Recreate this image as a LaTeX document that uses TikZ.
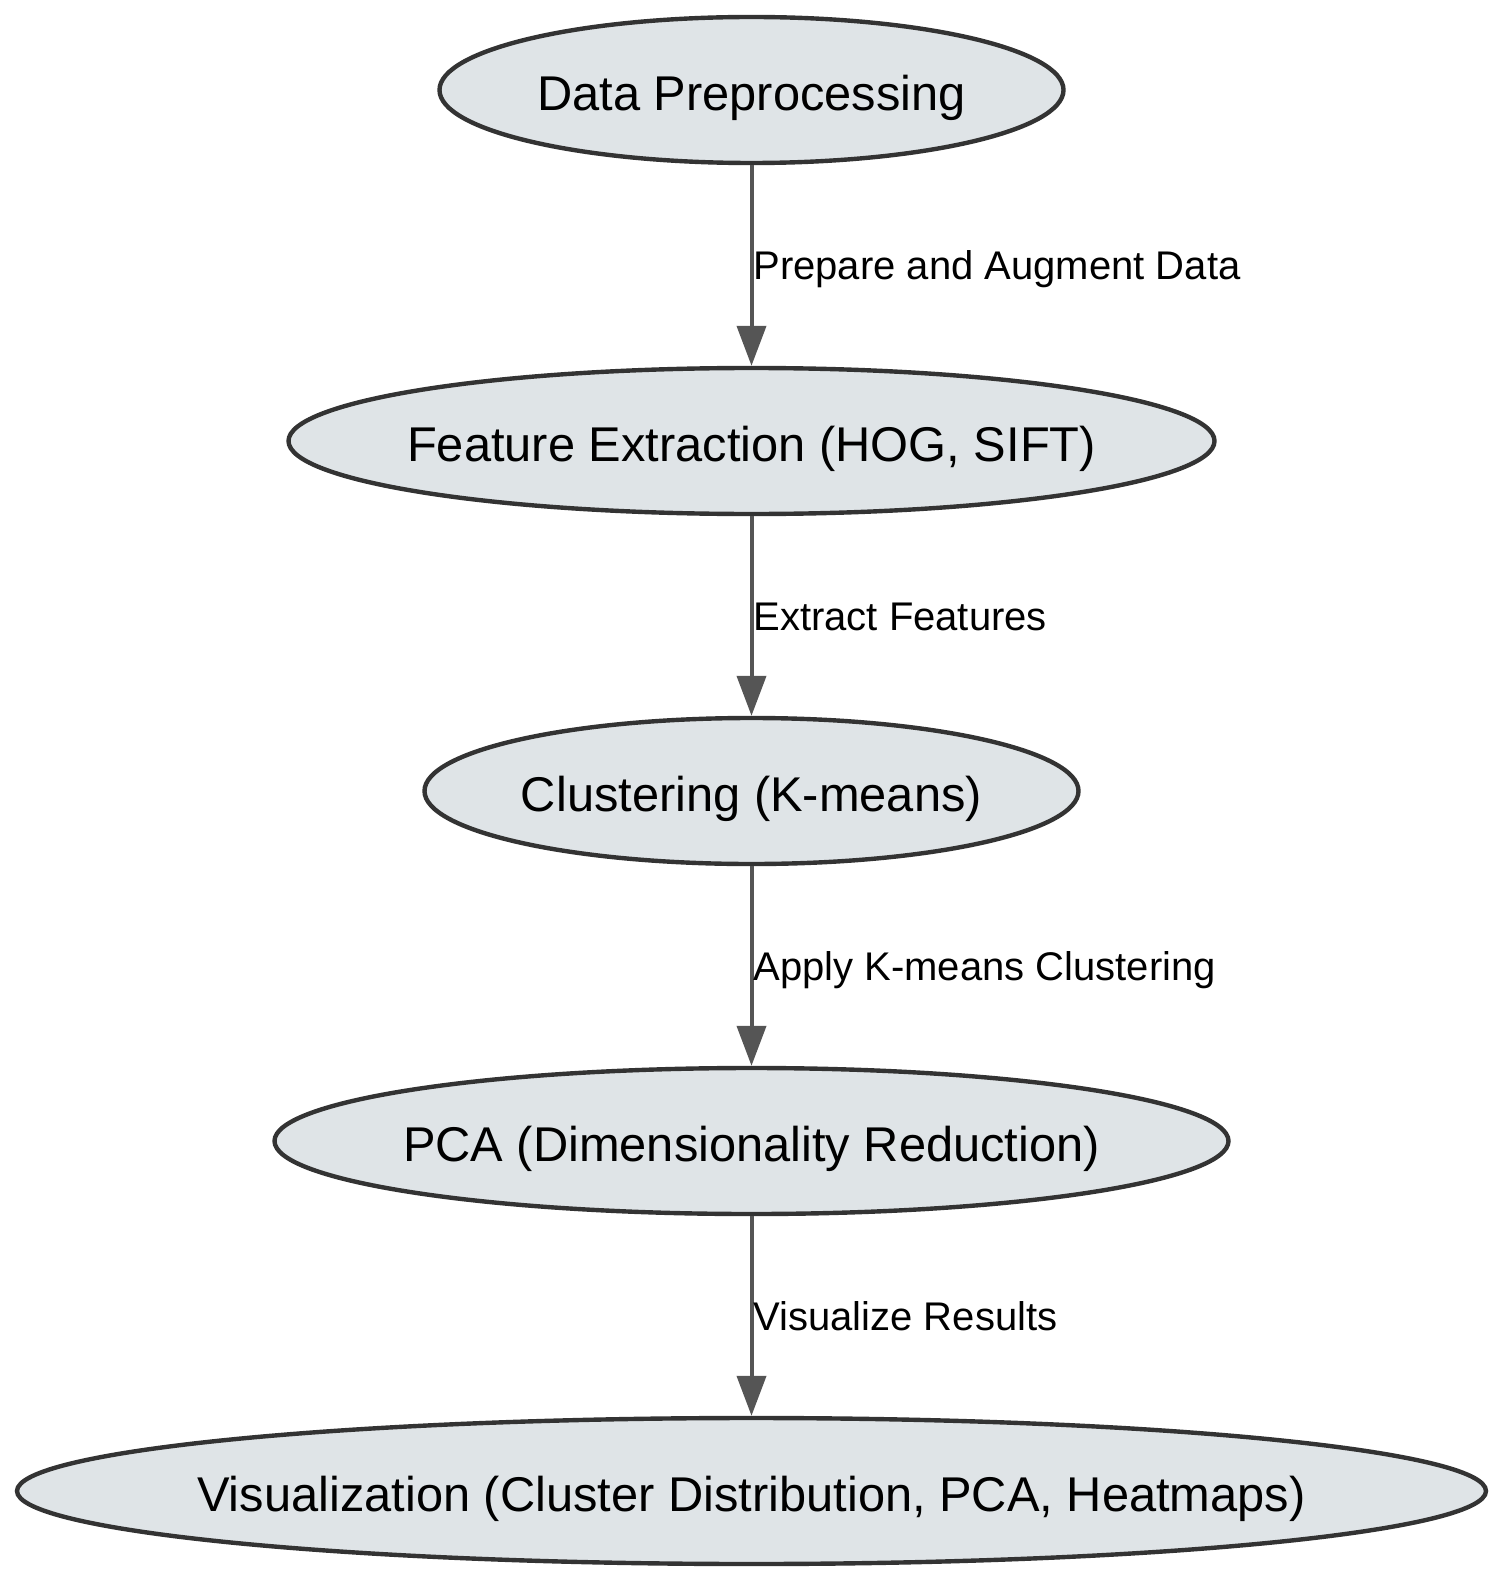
\documentclass[tikz,border=0pt]{standalone}
\usepackage{fontspec}
\setmainfont{Liberation Sans}
\usepackage{tikz}
\usetikzlibrary{arrows.meta,shapes.geometric}
\definecolor{stagefill}{HTML}{DFE4E7}
\definecolor{stageline}{HTML}{333333}
\definecolor{flowline}{HTML}{555555}
\newcommand{\stagetext}[1]{\makebox[0pt][c]{#1}}
\tikzset{
	stage/.style={ellipse, draw=stageline, fill=stagefill, line width=2.2pt, inner sep=0pt, minimum height=73pt, text height=23pt, text depth=2.3pt, font=\fontsize{24.4}{29}\selectfont},
	flow/.style={draw=flowline, line width=2pt, -{Triangle[length=20pt, width=14.5pt]}, color=flowline},
	flowlabel/.style={anchor=west, inner sep=0pt, text height=16pt, text depth=1.5pt, text=black, font=\fontsize{20}{24}\selectfont}
}

\begin{document}
\begin{tikzpicture}[x=0.5pt, y=-0.5pt]
		%%%%% START %%%%%
		
		\useasboundingbox (0, 0) rectangle (1503, 1583);
		
		\node[stage, minimum width=312pt] (prep) at (751.5, 90) {\stagetext{Data Preprocessing}};
		\node[stage, minimum width=463pt] (feat) at (751.5, 441) {\stagetext{Feature Extraction (HOG, SIFT)}};
		\node[stage, minimum width=327pt] (clust) at (751.5, 791) {\stagetext{Clustering (K-means)}};
		\node[stage, minimum width=477pt] (pca) at (751.5, 1141) {\stagetext{PCA (Dimensionality Reduction)}};
		\node[stage, minimum width=734.5pt] (vis) at (751.5, 1491) {\stagetext{Visualization (Cluster Distribution, PCA, Heatmaps)}};
		
		\draw[flow] (prep) -- node[flowlabel] {Prepare and Augment Data} (feat);
		\draw[flow] (feat) -- node[flowlabel] {Extract Features} (clust);
		\draw[flow] (clust) -- node[flowlabel] {Apply K-means Clustering} (pca);
		\draw[flow] (pca) -- node[flowlabel] {Visualize Results} (vis);
		
		%%%%% END %%%%%
	\end{tikzpicture}
\end{document}
